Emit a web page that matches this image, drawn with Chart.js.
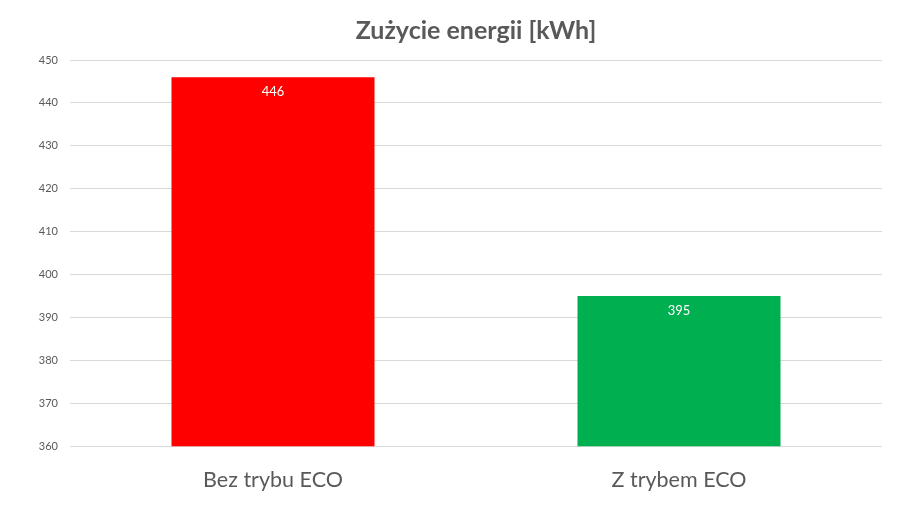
<!DOCTYPE html>
<html>
<head>
<meta charset="utf-8">
<script src="https://cdn.jsdelivr.net/npm/chart.js@4.4.0/dist/chart.umd.min.js"></script>
<style>
    html, body { margin: 0; padding: 0; background: #fff; }
    #wrap { width: 911px; height: 530px; }
</style>
</head>
<body>
<div id="wrap"><canvas id="energyChart"></canvas></div>
<script>
const categories = ['Bez trybu ECO', 'Z trybem ECO'];
const energyValues = [446, 395];
const barColors = ['#FF0000', '#00B050'];
const yTicks = [360, 370, 380, 390, 400, 410, 420, 430, 440, 450];

// values drawn inside the top of each bar, like Excel's "inside end" labels
const valueLabels = {
    id: 'valueLabels',
    afterDatasetsDraw(chart) {
        const ctx = chart.ctx;
        ctx.save();
        ctx.fillStyle = '#ffffff';
        ctx.font = '13px Lato';
        ctx.textAlign = 'center';
        ctx.textBaseline = 'middle';
        chart.getDatasetMeta(0).data.forEach((bar, i) => {
            ctx.fillText(energyValues[i], bar.x, bar.y + 15);
        });
        ctx.restore();
    }
};

new Chart(document.getElementById('energyChart'), {
    type: 'bar',
    data: {
        labels: categories,
        datasets: [{
            label: 'Zużycie energii [kWh]',
            data: energyValues,
            backgroundColor: barColors,
            borderWidth: 0,
            barPercentage: 0.5,
            categoryPercentage: 1
        }]
    },
    options: {
        responsive: true,
        maintainAspectRatio: false,
        animation: false,
        layout: {
            padding: { top: 6, right: 29, bottom: 24, left: 0 }
        },
        plugins: {
            legend: { display: false },
            tooltip: { enabled: false },
            title: {
                display: true,
                fullSize: false,
                text: 'Zużycie energii [kWh]',
                color: '#595959',
                font: { family: 'Lato', size: 25, weight: 'bold' },
                padding: { top: 10, bottom: 14 }
            }
        },
        scales: {
            x: {
                grid: { display: false },
                border: { display: false },
                ticks: {
                    color: '#595959',
                    font: { family: 'Lato', size: 21.5 },
                    padding: 13
                }
            },
            y: {
                min: 360,
                max: 450,
                afterFit(scale) { scale.width = 70; },
                afterBuildTicks(scale) {
                    scale.ticks = yTicks.map(v => ({ value: v }));
                },
                grid: { color: '#d9d9d9', drawTicks: false },
                border: { display: false },
                ticks: {
                    color: '#595959',
                    font: { family: 'Lato', size: 11 },
                    padding: 12
                }
            }
        }
    },
    plugins: [valueLabels]
});
</script>
</body>
</html>
